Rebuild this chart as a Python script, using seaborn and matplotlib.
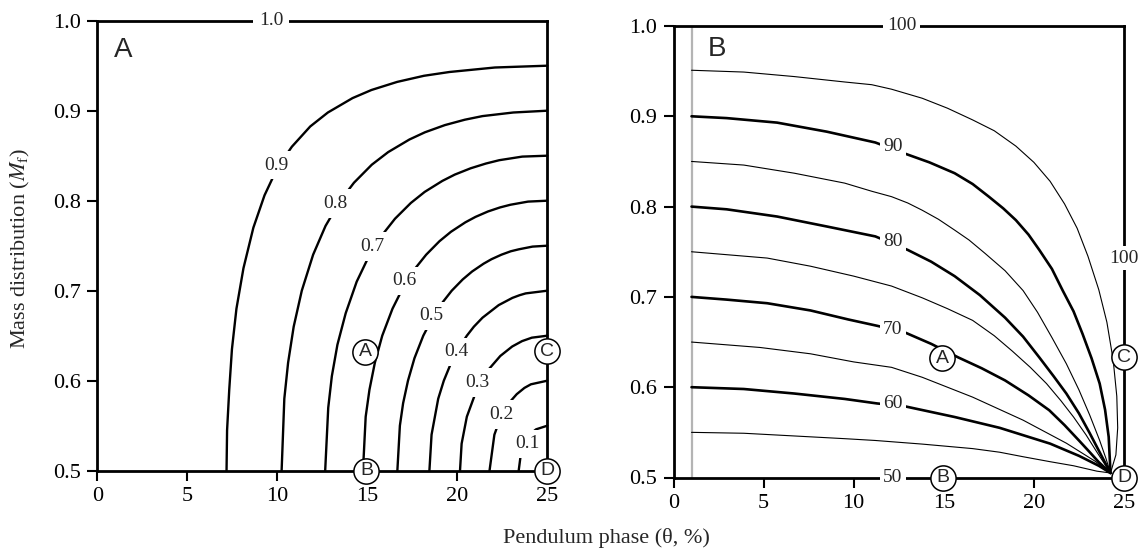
import matplotlib
matplotlib.use("Agg")
import matplotlib.pyplot as plt
import seaborn as sns

sns.set_style("ticks")
plt.rcParams['font.family'] = ['Liberation Serif', 'DejaVu Serif']
plt.rcParams['mathtext.fontset'] = 'stix'

# ---------------- Panel A data: contour lines (theta %, M_f) ----------------
A_levels = ["0.9", "0.8", "0.7", "0.6", "0.5", "0.4", "0.3", "0.2", "0.1"]
A_x = [
    [7.18, 7.21, 7.33, 7.48, 7.73, 8.12, 8.67, 9.29, 10.03, 10.81, 11.83, 12.81, 14.18, 15.23, 16.66, 18.15, 19.56, 22.09, 25.0],
    [10.24, 10.39, 10.60, 10.91, 11.36, 11.99, 12.68, 13.50, 14.26, 15.25, 16.16, 17.34, 18.20, 19.31, 20.42, 21.40, 23.11, 25.0],
    [12.66, 12.83, 13.03, 13.34, 13.80, 14.41, 15.08, 15.85, 16.54, 17.42, 18.19, 19.17, 19.86, 20.74, 21.59, 22.33, 23.61, 25.0],
    [14.76, 14.91, 15.12, 15.42, 15.83, 16.40, 17.00, 17.67, 18.27, 19.01, 19.65, 20.45, 21.01, 21.70, 22.37, 22.95, 23.93, 25.0],
    [16.67, 16.81, 16.99, 17.26, 17.62, 18.11, 18.63, 19.20, 19.69, 20.30, 20.82, 21.46, 21.90, 22.45, 22.97, 23.42, 24.18, 25.0],
    [18.45, 18.57, 18.94, 19.25, 19.66, 20.07, 20.53, 20.92, 21.40, 22.30, 23.06, 23.46, 23.80, 25.0],
    [20.15, 20.24, 20.53, 21.08, 21.74, 22.39, 23.05, 23.60, 24.14, 25.0],
    [21.79, 22.06, 22.42, 22.86, 23.30, 23.73, 24.09, 25.0],
    [23.41, 23.54, 23.72, 23.94, 24.16, 24.38, 25.0],
]
A_y = [
    [0.50, 0.545, 0.59, 0.635, 0.68, 0.725, 0.77, 0.806, 0.8375, 0.86, 0.8825, 0.898, 0.914, 0.923, 0.932, 0.9388, 0.943, 0.948, 0.95],
    [0.50, 0.58, 0.62, 0.66, 0.70, 0.74, 0.772, 0.80, 0.82, 0.84, 0.854, 0.868, 0.876, 0.884, 0.89, 0.894, 0.898, 0.90],
    [0.50, 0.57, 0.605, 0.64, 0.675, 0.71, 0.738, 0.7625, 0.78, 0.7975, 0.8098, 0.822, 0.829, 0.836, 0.8413, 0.845, 0.849, 0.85],
    [0.50, 0.56, 0.59, 0.62, 0.65, 0.68, 0.704, 0.725, 0.74, 0.755, 0.7655, 0.776, 0.782, 0.788, 0.7925, 0.7955, 0.799, 0.80],
    [0.50, 0.55, 0.575, 0.60, 0.625, 0.65, 0.67, 0.6875, 0.70, 0.7125, 0.7213, 0.73, 0.735, 0.74, 0.7438, 0.746, 0.749, 0.75],
    [0.50, 0.54, 0.58, 0.60, 0.62, 0.636, 0.65, 0.66, 0.67, 0.684, 0.692, 0.695, 0.697, 0.70],
    [0.50, 0.53, 0.56, 0.59, 0.6125, 0.6275, 0.638, 0.644, 0.6478, 0.65],
    [0.50, 0.54, 0.56, 0.575, 0.585, 0.592, 0.596, 0.60],
    [0.50, 0.52, 0.53, 0.5375, 0.5425, 0.546, 0.55],
]
A_lab_text = ["1.0", "0.9", "0.8", "0.7", "0.6", "0.5", "0.4", "0.3", "0.2", "0.1"]
A_lab_x = [9.66, 9.96, 13.22, 15.30, 17.08, 18.57, 19.95, 21.14, 22.43, 23.91]
A_lab_y = [1.0, 0.8395, 0.797, 0.749, 0.711, 0.672, 0.632, 0.598, 0.5625, 0.530]

# ---------------- Panel B data ----------------
B_levels = [55, 60, 65, 70, 75, 80, 85, 90, 95]
B_x = [
    [1, 3.9, 6.7, 9.5, 11.2, 13.8, 16.6, 18.1, 19.4, 20.9, 22.2, 23.5, 24.25],
    [1, 3.9, 6.7, 9.5, 11.3, 12.8, 15.6, 18.1, 20.9, 22.5, 23.6, 24.25],
    [1, 4.8, 7.6, 10.0, 12.1, 13.8, 16.6, 19.4, 21.8, 23.4, 24.25],
    [1, 2.95, 5.2, 7.6, 9.7, 11.3, 12.8, 14.3, 15.8, 17.1, 18.4, 19.7, 20.85, 21.7, 22.5,
     23.1, 23.6, 24.25],
    [1, 5.2, 7.6, 10.0, 12.1, 13.8, 15.2, 16.6, 17.8, 18.8, 19.8, 20.7, 21.5, 22.2, 22.9,
     23.5, 24.25],
    [1, 2.95, 5.75, 8.5, 11.2, 13.0, 14.3, 15.6, 17.0, 18.4, 19.4, 20.3, 21.1, 21.8, 22.5,
     23.1, 23.7, 24.25],
    [1, 3.9, 6.7, 9.5, 11.0, 12.1, 13.0, 13.8, 14.7, 15.6, 16.4, 17.3, 18.4, 19.4, 20.2,
     21.0, 21.8, 22.5, 23.1, 23.65, 24.0, 24.25],
    [1, 2.95, 5.75, 8.5, 11.2, 12.8, 14.2, 15.6, 16.6, 17.5, 18.3, 19.0, 19.7, 20.3, 21.0,
     21.6, 22.2, 22.7, 23.2, 23.65, 23.95, 24.15, 24.25],
    [1, 3.9, 6.7, 9.5, 11.0, 12.1, 13.8, 15.2, 16.6, 17.8, 19.0, 20.0, 20.9, 21.7, 22.4,
     23.0, 23.6, 24.05, 24.4, 24.6, 24.65, 24.55, 24.25],
]
B_y = [
    [0.55, 0.549, 0.546, 0.543, 0.541, 0.537, 0.532, 0.528, 0.523, 0.5175, 0.513, 0.507, 0.505],
    [0.60, 0.598, 0.593, 0.587, 0.582, 0.579, 0.567, 0.555, 0.5375, 0.524, 0.513, 0.505],
    [0.65, 0.644, 0.637, 0.628, 0.622, 0.611, 0.589, 0.5635, 0.538, 0.518, 0.505],
    [0.70, 0.697, 0.693, 0.685, 0.675, 0.668, 0.661, 0.648, 0.633, 0.621, 0.6075, 0.591,
     0.5745, 0.558, 0.541, 0.528, 0.517, 0.505],
    [0.75, 0.743, 0.734, 0.723, 0.712, 0.699, 0.687, 0.674, 0.657, 0.640, 0.622, 0.604,
     0.585, 0.567, 0.547, 0.528, 0.505],
    [0.80, 0.797, 0.789, 0.778, 0.767, 0.752, 0.739, 0.723, 0.702, 0.677, 0.656, 0.633,
     0.612, 0.593, 0.571, 0.549, 0.526, 0.505],
    [0.85, 0.846, 0.837, 0.826, 0.817, 0.811, 0.804, 0.796, 0.786, 0.774, 0.763, 0.748,
     0.729, 0.707, 0.683, 0.655, 0.626, 0.597, 0.569, 0.541, 0.521, 0.505],
    [0.90, 0.898, 0.893, 0.883, 0.871, 0.859, 0.849, 0.837, 0.825, 0.811, 0.798, 0.785,
     0.769, 0.752, 0.731, 0.707, 0.684, 0.659, 0.632, 0.604, 0.575, 0.545, 0.505],
    [0.951, 0.949, 0.944, 0.938, 0.935, 0.930, 0.920, 0.909, 0.896, 0.884, 0.867, 0.849,
     0.828, 0.803, 0.776, 0.745, 0.708, 0.672, 0.630, 0.590, 0.555, 0.525, 0.505],
]
B_lab_text = ["100", "90", "80", "70", "60", "50", "100"]
B_lab_x = [12.65, 12.18, 12.18, 12.18, 12.18, 12.18, 25.0]
B_lab_y = [1.0, 0.867, 0.761, 0.664, 0.582, 0.5, 0.743]
B_gray_x = [1, 1]
B_gray_y = [0.5, 1.0]

# circled points (same in both panels)
pt_names = ["A", "B", "C", "D"]
pt_x = [14.9, 14.95, 25.0, 25.0]
pt_y = [0.632, 0.5, 0.633, 0.5]

x_ticks = [0, 5, 10, 15, 20, 25]
y_ticks = [0.5, 0.6, 0.7, 0.8, 0.9, 1.0]
y_ticklabels = ["0.5", "0.6", "0.7", "0.8", "0.9", "1.0"]

W, H = 1141, 552
fig = plt.figure(figsize=(W / 100, H / 100), dpi=100)
axA = fig.add_axes([97.3 / W, (H - 470.7) / H, 450 / W, 450 / H])
axB = fig.add_axes([673.5 / W, (H - 477.5) / H, 450.5 / W, 451.5 / H])

def style(ax):
    ax.set_xlim(0, 25)
    ax.set_ylim(0.5, 1.0)
    ax.set_xticks(x_ticks)
    ax.set_yticks(y_ticks)
    ax.set_yticklabels(y_ticklabels)
    for s in ax.spines.values():
        s.set_visible(True)
        s.set_linewidth(2.0)
        s.set_color("black")
    ax.tick_params(direction="out", length=7, width=1.5, labelsize=16,
                   pad=5, colors="black", top=False, right=False)
    ax.set_xlabel("")
    ax.set_ylabel("")
    ax.set_facecolor("white")

def circles(ax):
    sns.scatterplot(x=pt_x, y=pt_y, s=330, color="white", edgecolor="black",
                    linewidth=1.1, zorder=8, clip_on=False, legend=False, ax=ax)
    for n, xx, yy in zip(pt_names, pt_x, pt_y):
        ax.text(xx, yy, n, ha="center", va="center", fontsize=14,
                family=["Liberation Sans", "DejaVu Sans"], zorder=9, clip_on=False)

# Panel A
for xs, ys in zip(A_x, A_y):
    sns.lineplot(x=xs, y=ys, sort=False, estimator=None, color="black",
                 linewidth=1.7, clip_on=False, ax=axA)
style(axA)
for t, xx, yy in zip(A_lab_text, A_lab_x, A_lab_y):
    axA.text(xx, yy, t, ha="center", va="center", fontsize=14, zorder=6, clip_on=False,
             bbox=dict(facecolor="white", edgecolor="none", pad=4))
axA.text(1.45, 0.967, "A", ha="center", va="center", fontsize=20,
         family=["Liberation Sans", "DejaVu Sans"])
circles(axA)

# Panel B
sns.lineplot(x=B_gray_x, y=B_gray_y, sort=False, estimator=None, color="#b4b4b4",
             linewidth=1.6, ax=axB)
for lev, xs, ys in zip(B_levels, B_x, B_y):
    lw = 1.9 if lev % 10 == 0 else 0.8
    sns.lineplot(x=xs, y=ys, sort=False, estimator=None, color="black",
                 linewidth=lw, clip_on=False, ax=axB)
style(axB)
for t, xx, yy in zip(B_lab_text, B_lab_x, B_lab_y):
    axB.text(xx, yy, t, ha="center", va="center", fontsize=14, zorder=6, clip_on=False,
             bbox=dict(facecolor="white", edgecolor="none", pad=2.5))
axB.text(2.4, 0.975, "B", ha="center", va="center", fontsize=20,
         family=["Liberation Sans", "DejaVu Sans"])
circles(axB)

fig.text(20 / W, 1 - 248 / H, r"Mass distribution ($M_{\mathrm{f}}$)", rotation=90,
         ha="center", va="center", fontsize=16)
fig.text(606 / W, 1 - 538 / H, "Pendulum phase (\u03b8, %)", ha="center", va="center",
         fontsize=16)

fig.savefig("out.png", dpi=100, facecolor="white")
